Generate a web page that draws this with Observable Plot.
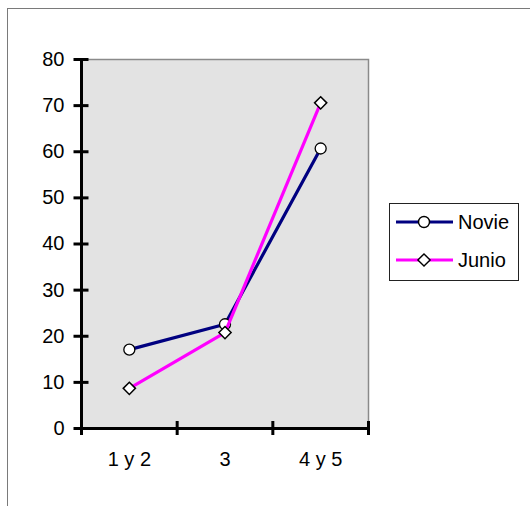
<!DOCTYPE html>
<html>
<head>
<meta charset="utf-8">
<script src="https://cdn.jsdelivr.net/npm/d3@7"></script>
<script src="https://cdn.jsdelivr.net/npm/@observablehq/plot@0.6"></script>
<style>
  html, body { margin: 0; padding: 0; background: #fff; }
  #wrap { position: relative; width: 530px; height: 506px; overflow: hidden; font-family: "Liberation Sans", Arial, sans-serif; }
  #border { position: absolute; left: 7px; top: 8px; right: -2px; bottom: -2px; border-top: 1px solid #7a7a7a; border-left: 1px solid #7a7a7a; pointer-events: none; }
  #legend { position: absolute; left: 389px; top: 203px; width: 130px; height: 78px; box-sizing: border-box; border: 1px solid #222; background: #fff; }
</style>
</head>
<body>
<div id="wrap">
  <div id="chart"></div>
  <div id="border"></div>
  <div id="legend"></div>
</div>
<script>
const categories = ["1 y 2", "3", "4 y 5"];
const novie = [17.1, 22.6, 60.7];
const junio = [8.7, 20.8, 70.6];
const yTicks = [0, 10, 20, 30, 40, 50, 60, 70, 80];
const seriesNames = ["Novie", "Junio"];
const seriesColors = ["#000080", "#ff00ff"];
const seriesSymbols = ["circle", "diamond2"];

const rows = (vals) => categories.map((c, i) => ({pos: i + 0.5, cat: c, value: vals[i]}));
const novieRows = rows(novie);
const junioRows = rows(junio);

const chart = Plot.plot({
  width: 530,
  height: 506,
  marginLeft: 81,
  marginTop: 59,
  marginRight: 162,
  marginBottom: 78,
  style: {fontFamily: "'Liberation Sans', Arial, sans-serif", fontSize: "20px", color: "black", background: "transparent", overflow: "visible"},
  x: {domain: [0, categories.length]},
  y: {domain: [0, 80]},
  marks: [
    Plot.frame({fill: "#e3e3e3", stroke: "#8a8a8a", strokeWidth: 1.5}),
    Plot.axisY({ticks: yTicks, tickSize: 15, dx: 7.5, strokeWidth: 3, text: null, label: null}),
    Plot.axisY({ticks: yTicks, tickSize: 0, tickPadding: 17, label: null, fontSize: 20}),
    Plot.axisX({ticks: d3.range(categories.length + 1), tickSize: 14, dy: -7, strokeWidth: 3, text: null, label: null}),
    Plot.axisX({ticks: categories.map((c, i) => i + 0.5), tickFormat: v => categories[Math.floor(v)], tickSize: 0, tickPadding: 23, label: null, fontSize: 20}),
    Plot.ruleX([0], {strokeWidth: 3, stroke: "black"}),
    Plot.ruleY([0], {strokeWidth: 3, stroke: "black"}),
    Plot.line(novieRows, {x: "pos", y: "value", stroke: seriesColors[0], strokeWidth: 3.2}),
    Plot.dot(novieRows, {x: "pos", y: "value", r: 5.5, symbol: seriesSymbols[0], fill: "white", stroke: "black", strokeWidth: 1.3}),
    Plot.line(junioRows, {x: "pos", y: "value", stroke: seriesColors[1], strokeWidth: 3.2}),
    Plot.dot(junioRows, {x: "pos", y: "value", r: 5.5, symbol: seriesSymbols[1], fill: "white", stroke: "black", strokeWidth: 1.5})
  ]
});
document.getElementById("chart").appendChild(chart);

// Legend
const leg = d3.select("#legend");
const lsvg = leg.append("svg").attr("width", 128).attr("height", 76).style("display", "block");
const rowY = [18, 56];
seriesNames.forEach((name, i) => {
  const g = lsvg.append("g").attr("transform", `translate(0,${rowY[i]})`);
  g.append("line").attr("x1", 6).attr("x2", 63).attr("y1", 0).attr("y2", 0)
    .attr("stroke", seriesColors[i]).attr("stroke-width", 3.2);
  const sym = i === 0 ? d3.symbolCircle : d3.symbolDiamond2;
  g.append("path").attr("transform", "translate(34,0)")
    .attr("d", d3.symbol(sym, i === 0 ? 95 : 95)())
    .attr("fill", "white").attr("stroke", "black").attr("stroke-width", 1.4);
  g.append("text").attr("x", 68).attr("y", 0).attr("dy", "0.35em")
    .attr("font-family", "'Liberation Sans', Arial, sans-serif").attr("font-size", 20)
    .text(name);
});
</script>
</body>
</html>
